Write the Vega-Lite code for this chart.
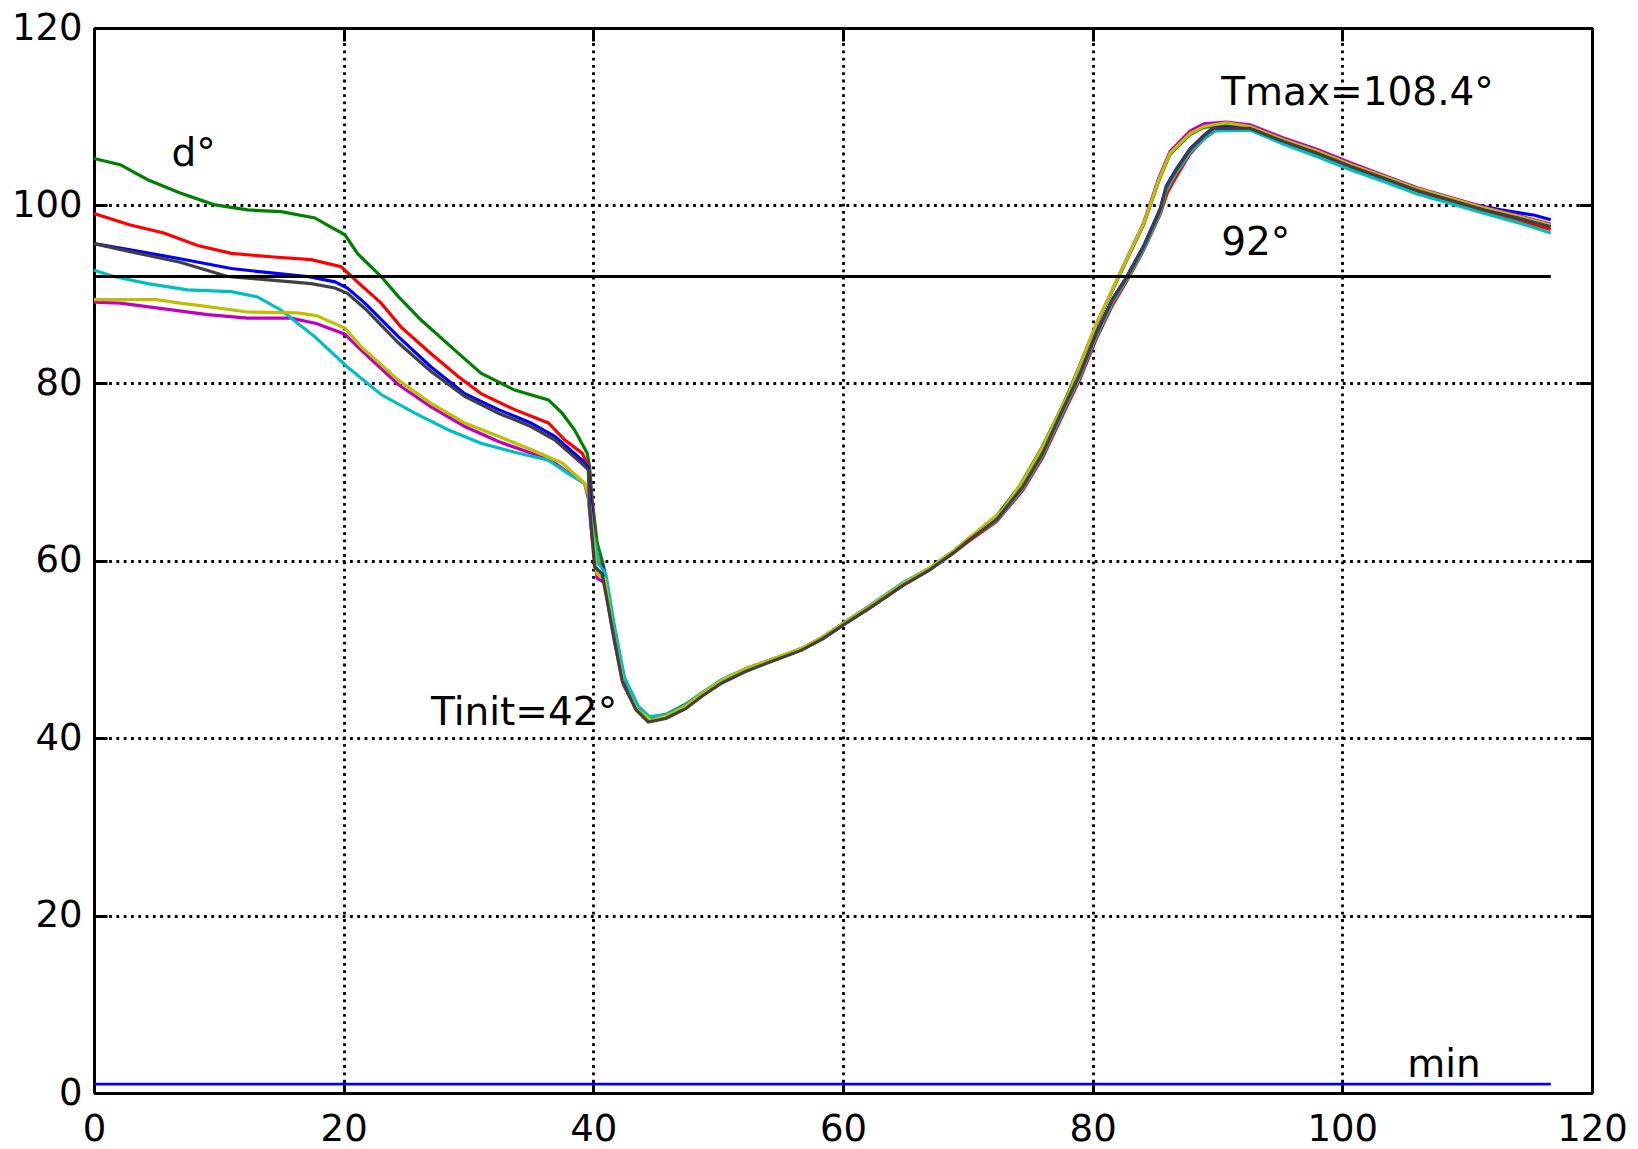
{
  "$schema": "https://vega.github.io/schema/vega-lite/v6.json",
  "width": 1498,
  "height": 1065,
  "autosize": {"type": "none"},
  "padding": {"left": 94, "top": 28, "right": 46, "bottom": 56},
  "background": "white",
  "config": {
    "view": {"stroke": null},
    "font": "DejaVu Sans"
  },
  "datasets": {
    "curves": [
      {"s":"green","t":0,"v":105.3},{"s":"green","t":2.1,"v":104.6},{"s":"green","t":4.3,"v":102.9},{"s":"green","t":6.9,"v":101.4},{"s":"green","t":9.6,"v":100.1},{"s":"green","t":12.3,"v":99.5},{"s":"green","t":15,"v":99.3},{"s":"green","t":17.7,"v":98.6},{"s":"green","t":18.7,"v":97.8},{"s":"green","t":20.1,"v":96.7},{"s":"green","t":21.1,"v":94.6},{"s":"green","t":23,"v":92},{"s":"green","t":24.4,"v":89.7},{"s":"green","t":26.2,"v":87.1},{"s":"green","t":28.9,"v":83.7},{"s":"green","t":31,"v":81.1},{"s":"green","t":33.7,"v":79.2},{"s":"green","t":36.4,"v":78.1},{"s":"green","t":37.5,"v":76.6},{"s":"green","t":38.5,"v":74.7},{"s":"green","t":39.5,"v":72.1},{"s":"green","t":39.7,"v":70.6},{"s":"green","t":39.9,"v":67},{"s":"green","t":40.3,"v":62},{"s":"green","t":40.8,"v":59.5},{"s":"green","t":41.6,"v":53},{"s":"green","t":42.4,"v":47},{"s":"green","t":43.5,"v":43.6},{"s":"green","t":44.5,"v":42.3},{"s":"green","t":45.9,"v":42.7},{"s":"green","t":47.4,"v":43.8},{"s":"green","t":48.7,"v":45.1},{"s":"green","t":50.3,"v":46.5},{"s":"green","t":52.2,"v":47.8},{"s":"green","t":54.6,"v":49.0},{"s":"green","t":56.7,"v":50.1},{"s":"green","t":58.4,"v":51.4},{"s":"green","t":60.2,"v":53.1},{"s":"green","t":62.1,"v":54.8},{"s":"green","t":64.8,"v":57.4},{"s":"green","t":66.9,"v":59.1},{"s":"green","t":68.8,"v":61.0},{"s":"green","t":70.1,"v":62.5},{"s":"green","t":72.3,"v":65.0},{"s":"green","t":74.2,"v":68.5},{"s":"green","t":76,"v":72.9},{"s":"green","t":77.6,"v":77.5},{"s":"green","t":78.2,"v":79.4},{"s":"green","t":80.3,"v":86.6},{"s":"green","t":82.2,"v":92.3},{"s":"green","t":84.1,"v":97.9},{"s":"green","t":85.3,"v":102.8},{"s":"green","t":86.2,"v":105.8},{"s":"green","t":87.8,"v":108.0},{"s":"green","t":88.9,"v":108.8},{"s":"green","t":90.7,"v":109.1},{"s":"green","t":92.6,"v":108.8},{"s":"green","t":95.3,"v":107.3},{"s":"green","t":98,"v":106.0},{"s":"green","t":100.7,"v":104.5},{"s":"green","t":103.3,"v":103.2},{"s":"green","t":106,"v":101.8},{"s":"green","t":108.7,"v":100.6},{"s":"green","t":111.4,"v":99.5},{"s":"green","t":114,"v":98.6},{"s":"green","t":116.7,"v":97.7},

      {"s":"red","t":0,"v":99.1},{"s":"red","t":2.9,"v":97.8},{"s":"red","t":5.6,"v":96.9},{"s":"red","t":8.3,"v":95.5},{"s":"red","t":11,"v":94.6},{"s":"red","t":14.4,"v":94.2},{"s":"red","t":17.4,"v":93.9},{"s":"red","t":19.8,"v":93.1},{"s":"red","t":21.1,"v":91.4},{"s":"red","t":23,"v":89},{"s":"red","t":24.6,"v":86.3},{"s":"red","t":27,"v":83.3},{"s":"red","t":29.2,"v":80.7},{"s":"red","t":31,"v":78.8},{"s":"red","t":33.7,"v":77},{"s":"red","t":36.4,"v":75.5},{"s":"red","t":37.7,"v":73.6},{"s":"red","t":39.1,"v":72.1},{"s":"red","t":39.6,"v":70.6},{"s":"red","t":39.8,"v":67.5},{"s":"red","t":40.2,"v":61},{"s":"red","t":40.8,"v":59},{"s":"red","t":41.6,"v":52.8},{"s":"red","t":42.4,"v":46.8},{"s":"red","t":43.5,"v":43.3},{"s":"red","t":44.5,"v":42.0},{"s":"red","t":45.9,"v":42.3},{"s":"red","t":47.4,"v":43.4},{"s":"red","t":48.7,"v":44.8},{"s":"red","t":50.3,"v":46.3},{"s":"red","t":52.2,"v":47.6},{"s":"red","t":54.6,"v":48.9},{"s":"red","t":56.7,"v":50.0},{"s":"red","t":58.4,"v":51.3},{"s":"red","t":60.2,"v":52.9},{"s":"red","t":62.1,"v":54.6},{"s":"red","t":64.8,"v":57.2},{"s":"red","t":66.9,"v":58.9},{"s":"red","t":68.8,"v":60.8},{"s":"red","t":70.1,"v":62.2},{"s":"red","t":72.3,"v":64.4},{"s":"red","t":74.4,"v":67.9},{"s":"red","t":76,"v":71.6},{"s":"red","t":77.6,"v":76.4},{"s":"red","t":79,"v":80.5},{"s":"red","t":80.3,"v":85.0},{"s":"red","t":81.6,"v":88.8},{"s":"red","t":82.7,"v":91.4},{"s":"red","t":84.1,"v":95.0},{"s":"red","t":85.4,"v":99.0},{"s":"red","t":86.0,"v":101.5},{"s":"red","t":86.8,"v":103.5},{"s":"red","t":87.8,"v":105.8},{"s":"red","t":88.9,"v":107.5},{"s":"red","t":89.9,"v":108.5},{"s":"red","t":92.6,"v":108.6},{"s":"red","t":95.3,"v":107.1},{"s":"red","t":98,"v":105.8},{"s":"red","t":100.7,"v":104.3},{"s":"red","t":103.3,"v":103.0},{"s":"red","t":106,"v":101.6},{"s":"red","t":108.7,"v":100.4},{"s":"red","t":111.4,"v":99.3},{"s":"red","t":114,"v":98.3},{"s":"red","t":116.7,"v":97.3},

      {"s":"blue","t":0,"v":95.7},{"s":"blue","t":2.9,"v":95},{"s":"blue","t":6.9,"v":94},{"s":"blue","t":11,"v":92.9},{"s":"blue","t":14.2,"v":92.4},{"s":"blue","t":17.1,"v":92},{"s":"blue","t":19.3,"v":91.4},{"s":"blue","t":20.3,"v":90.7},{"s":"blue","t":21.7,"v":89},{"s":"blue","t":24.4,"v":85.2},{"s":"blue","t":27,"v":81.8},{"s":"blue","t":29.7,"v":78.8},{"s":"blue","t":32.4,"v":77},{"s":"blue","t":35,"v":75.5},{"s":"blue","t":36.9,"v":74},{"s":"blue","t":39.1,"v":71.3},{"s":"blue","t":39.6,"v":70.5},{"s":"blue","t":39.8,"v":66.5},{"s":"blue","t":40.2,"v":60},{"s":"blue","t":40.8,"v":59.2},{"s":"blue","t":41.6,"v":53},{"s":"blue","t":42.4,"v":47},{"s":"blue","t":43.5,"v":43.4},{"s":"blue","t":44.5,"v":42.1},{"s":"blue","t":45.9,"v":42.4},{"s":"blue","t":47.4,"v":43.5},{"s":"blue","t":48.7,"v":44.9},{"s":"blue","t":50.3,"v":46.4},{"s":"blue","t":52.2,"v":47.7},{"s":"blue","t":54.6,"v":48.9},{"s":"blue","t":56.7,"v":50.0},{"s":"blue","t":58.4,"v":51.3},{"s":"blue","t":60.2,"v":53.0},{"s":"blue","t":62.1,"v":54.7},{"s":"blue","t":64.8,"v":57.3},{"s":"blue","t":66.9,"v":59.0},{"s":"blue","t":68.8,"v":60.9},{"s":"blue","t":70.1,"v":62.4},{"s":"blue","t":72.3,"v":64.7},{"s":"blue","t":74.4,"v":68.4},{"s":"blue","t":76,"v":72.2},{"s":"blue","t":77.6,"v":77.1},{"s":"blue","t":79,"v":81.2},{"s":"blue","t":80.3,"v":85.7},{"s":"blue","t":81.6,"v":89.5},{"s":"blue","t":82.7,"v":91.9},{"s":"blue","t":84.1,"v":95.5},{"s":"blue","t":85.4,"v":99.6},{"s":"blue","t":85.9,"v":102.2},{"s":"blue","t":86.7,"v":104.1},{"s":"blue","t":87.8,"v":106.4},{"s":"blue","t":88.9,"v":107.9},{"s":"blue","t":89.7,"v":108.8},{"s":"blue","t":92.6,"v":108.8},{"s":"blue","t":95.3,"v":107.3},{"s":"blue","t":98,"v":106.0},{"s":"blue","t":100.7,"v":104.5},{"s":"blue","t":103.3,"v":103.1},{"s":"blue","t":106,"v":101.8},{"s":"blue","t":108.7,"v":100.7},{"s":"blue","t":110.5,"v":100.1},{"s":"blue","t":112.7,"v":99.5},{"s":"blue","t":115.4,"v":98.9},{"s":"blue","t":116.7,"v":98.4},

      {"s":"magenta","t":0,"v":89.1},{"s":"magenta","t":2.1,"v":89},{"s":"magenta","t":5.3,"v":88.4},{"s":"magenta","t":9.1,"v":87.7},{"s":"magenta","t":12.3,"v":87.3},{"s":"magenta","t":15.8,"v":87.3},{"s":"magenta","t":17.8,"v":86.7},{"s":"magenta","t":20.1,"v":85.5},{"s":"magenta","t":21.1,"v":84.1},{"s":"magenta","t":24.4,"v":79.8},{"s":"magenta","t":27,"v":77.3},{"s":"magenta","t":29.7,"v":75.1},{"s":"magenta","t":32.4,"v":73.4},{"s":"magenta","t":35,"v":72.1},{"s":"magenta","t":36.9,"v":71},{"s":"magenta","t":38.5,"v":69.4},{"s":"magenta","t":39.3,"v":68.7},{"s":"magenta","t":39.6,"v":67},{"s":"magenta","t":39.9,"v":62.5},{"s":"magenta","t":40.3,"v":58},{"s":"magenta","t":40.9,"v":57.5},{"s":"magenta","t":41.6,"v":51.5},{"s":"magenta","t":42.4,"v":46},{"s":"magenta","t":43.5,"v":43.1},{"s":"magenta","t":44.6,"v":41.9},{"s":"magenta","t":45.9,"v":42.3},{"s":"magenta","t":47.4,"v":43.5},{"s":"magenta","t":48.7,"v":44.9},{"s":"magenta","t":50.3,"v":46.4},{"s":"magenta","t":52.2,"v":47.7},{"s":"magenta","t":54.6,"v":48.9},{"s":"magenta","t":56.7,"v":50.0},{"s":"magenta","t":58.4,"v":51.2},{"s":"magenta","t":60.2,"v":52.9},{"s":"magenta","t":62.1,"v":54.7},{"s":"magenta","t":64.8,"v":57.3},{"s":"magenta","t":66.9,"v":59.0},{"s":"magenta","t":68.8,"v":60.9},{"s":"magenta","t":70.1,"v":62.4},{"s":"magenta","t":72.8,"v":65.6},{"s":"magenta","t":74.4,"v":68.8},{"s":"magenta","t":76,"v":72.7},{"s":"magenta","t":78.2,"v":79.1},{"s":"magenta","t":80.3,"v":86.6},{"s":"magenta","t":82.2,"v":92.4},{"s":"magenta","t":84.1,"v":98.1},{"s":"magenta","t":85.3,"v":103.1},{"s":"magenta","t":86.2,"v":106.1},{"s":"magenta","t":87.8,"v":108.4},{"s":"magenta","t":88.9,"v":109.2},{"s":"magenta","t":90.7,"v":109.4},{"s":"magenta","t":92.6,"v":109.1},{"s":"magenta","t":95.3,"v":107.6},{"s":"magenta","t":98,"v":106.3},{"s":"magenta","t":100.7,"v":104.8},{"s":"magenta","t":103.3,"v":103.4},{"s":"magenta","t":106,"v":102.0},{"s":"magenta","t":108.7,"v":100.9},{"s":"magenta","t":111.4,"v":99.8},{"s":"magenta","t":114,"v":98.9},{"s":"magenta","t":116.7,"v":97.9},

      {"s":"cyan","t":0,"v":92.7},{"s":"cyan","t":1.6,"v":92},{"s":"cyan","t":4.3,"v":91.2},{"s":"cyan","t":7.5,"v":90.5},{"s":"cyan","t":11,"v":90.3},{"s":"cyan","t":13.1,"v":89.7},{"s":"cyan","t":15,"v":88.2},{"s":"cyan","t":17.7,"v":85.2},{"s":"cyan","t":20.3,"v":81.8},{"s":"cyan","t":23,"v":78.7},{"s":"cyan","t":25.7,"v":76.6},{"s":"cyan","t":28.4,"v":74.7},{"s":"cyan","t":31,"v":73.2},{"s":"cyan","t":33.7,"v":72.2},{"s":"cyan","t":36.4,"v":71.3},{"s":"cyan","t":38,"v":69.8},{"s":"cyan","t":39.3,"v":68.7},{"s":"cyan","t":39.6,"v":67.5},{"s":"cyan","t":40.0,"v":63},{"s":"cyan","t":40.5,"v":59.5},{"s":"cyan","t":41.0,"v":58.5},{"s":"cyan","t":41.7,"v":52.5},{"s":"cyan","t":42.5,"v":46.8},{"s":"cyan","t":43.6,"v":43.6},{"s":"cyan","t":44.5,"v":42.4},{"s":"cyan","t":45.8,"v":42.6},{"s":"cyan","t":47.4,"v":43.7},{"s":"cyan","t":48.7,"v":45.1},{"s":"cyan","t":50.3,"v":46.6},{"s":"cyan","t":52.2,"v":47.8},{"s":"cyan","t":54.6,"v":49.0},{"s":"cyan","t":56.7,"v":50.0},{"s":"cyan","t":58.4,"v":51.4},{"s":"cyan","t":60.2,"v":53.1},{"s":"cyan","t":62.1,"v":54.9},{"s":"cyan","t":64.8,"v":57.5},{"s":"cyan","t":66.9,"v":59.1},{"s":"cyan","t":68.8,"v":61.0},{"s":"cyan","t":70.1,"v":62.4},{"s":"cyan","t":72.3,"v":64.5},{"s":"cyan","t":74.4,"v":68.1},{"s":"cyan","t":76,"v":71.9},{"s":"cyan","t":77.6,"v":76.7},{"s":"cyan","t":79,"v":80.8},{"s":"cyan","t":80.3,"v":85.3},{"s":"cyan","t":81.6,"v":89.1},{"s":"cyan","t":82.7,"v":91.6},{"s":"cyan","t":84.1,"v":95.1},{"s":"cyan","t":85.4,"v":99.2},{"s":"cyan","t":85.9,"v":101.7},{"s":"cyan","t":86.7,"v":103.7},{"s":"cyan","t":87.8,"v":106.0},{"s":"cyan","t":88.9,"v":107.5},{"s":"cyan","t":89.7,"v":108.4},{"s":"cyan","t":92.6,"v":108.5},{"s":"cyan","t":95.3,"v":106.9},{"s":"cyan","t":98,"v":105.5},{"s":"cyan","t":100.7,"v":104.0},{"s":"cyan","t":103.3,"v":102.7},{"s":"cyan","t":106,"v":101.3},{"s":"cyan","t":108.7,"v":100.2},{"s":"cyan","t":111.4,"v":99.1},{"s":"cyan","t":114,"v":98.1},{"s":"cyan","t":116.7,"v":96.9},

      {"s":"yellow","t":0,"v":89.4},{"s":"yellow","t":5,"v":89.4},{"s":"yellow","t":6.9,"v":89},{"s":"yellow","t":9.1,"v":88.6},{"s":"yellow","t":12.3,"v":88},{"s":"yellow","t":16.3,"v":87.9},{"s":"yellow","t":17.8,"v":87.6},{"s":"yellow","t":20.1,"v":86.2},{"s":"yellow","t":21.4,"v":84.1},{"s":"yellow","t":24.4,"v":80.3},{"s":"yellow","t":27,"v":77.7},{"s":"yellow","t":29.7,"v":75.5},{"s":"yellow","t":32.4,"v":74},{"s":"yellow","t":35,"v":72.5},{"s":"yellow","t":37.5,"v":71},{"s":"yellow","t":39.3,"v":68.7},{"s":"yellow","t":39.6,"v":67.5},{"s":"yellow","t":39.9,"v":63.5},{"s":"yellow","t":40.3,"v":58.5},{"s":"yellow","t":40.9,"v":58},{"s":"yellow","t":41.6,"v":52},{"s":"yellow","t":42.4,"v":46.2},{"s":"yellow","t":43.5,"v":43.2},{"s":"yellow","t":44.6,"v":42.0},{"s":"yellow","t":45.9,"v":42.5},{"s":"yellow","t":47.4,"v":43.6},{"s":"yellow","t":48.7,"v":45.0},{"s":"yellow","t":50.3,"v":46.5},{"s":"yellow","t":52.2,"v":47.8},{"s":"yellow","t":54.6,"v":49.0},{"s":"yellow","t":56.7,"v":50.1},{"s":"yellow","t":58.4,"v":51.4},{"s":"yellow","t":60.2,"v":53.1},{"s":"yellow","t":62.1,"v":54.8},{"s":"yellow","t":64.8,"v":57.4},{"s":"yellow","t":66.9,"v":59.1},{"s":"yellow","t":68.8,"v":61.0},{"s":"yellow","t":70.1,"v":62.5},{"s":"yellow","t":72.8,"v":65.7},{"s":"yellow","t":74.4,"v":68.9},{"s":"yellow","t":76,"v":72.8},{"s":"yellow","t":78.2,"v":79.2},{"s":"yellow","t":80.3,"v":86.7},{"s":"yellow","t":82.2,"v":92.4},{"s":"yellow","t":84.1,"v":98},{"s":"yellow","t":85.3,"v":102.9},{"s":"yellow","t":86.2,"v":105.9},{"s":"yellow","t":87.8,"v":108.1},{"s":"yellow","t":88.9,"v":108.9},{"s":"yellow","t":90.7,"v":109.3},{"s":"yellow","t":92.6,"v":108.9},{"s":"yellow","t":95.3,"v":107.4},{"s":"yellow","t":98,"v":106.1},{"s":"yellow","t":100.7,"v":104.6},{"s":"yellow","t":103.3,"v":103.3},{"s":"yellow","t":106,"v":101.9},{"s":"yellow","t":108.7,"v":100.8},{"s":"yellow","t":111.4,"v":99.7},{"s":"yellow","t":114,"v":98.8},{"s":"yellow","t":116.7,"v":97.8},

      {"s":"gray","t":0,"v":95.7},{"s":"gray","t":2.9,"v":94.8},{"s":"gray","t":6.9,"v":93.6},{"s":"gray","t":10.7,"v":92.0},{"s":"gray","t":14.2,"v":91.6},{"s":"gray","t":17.4,"v":91.2},{"s":"gray","t":19.3,"v":90.7},{"s":"gray","t":20.3,"v":90.1},{"s":"gray","t":21.7,"v":88.4},{"s":"gray","t":24.4,"v":84.5},{"s":"gray","t":27,"v":81.3},{"s":"gray","t":29.7,"v":78.5},{"s":"gray","t":32.4,"v":76.6},{"s":"gray","t":35,"v":75.1},{"s":"gray","t":36.9,"v":73.6},{"s":"gray","t":39.1,"v":70.9},{"s":"gray","t":39.6,"v":70.2},{"s":"gray","t":39.7,"v":66.1},{"s":"gray","t":40.1,"v":59.3},{"s":"gray","t":40.7,"v":58.5},{"s":"gray","t":41.5,"v":52.5},{"s":"gray","t":42.3,"v":46.5},{"s":"gray","t":43.4,"v":43.2},{"s":"gray","t":44.4,"v":41.8},{"s":"gray","t":45.8,"v":42.2},{"s":"gray","t":47.4,"v":43.3},{"s":"gray","t":48.7,"v":44.7},{"s":"gray","t":50.3,"v":46.2},{"s":"gray","t":52.2,"v":47.5},{"s":"gray","t":54.6,"v":48.8},{"s":"gray","t":56.7,"v":49.9},{"s":"gray","t":58.4,"v":51.2},{"s":"gray","t":60.2,"v":52.9},{"s":"gray","t":62.1,"v":54.6},{"s":"gray","t":64.8,"v":57.2},{"s":"gray","t":66.9,"v":58.9},{"s":"gray","t":68.8,"v":60.8},{"s":"gray","t":70.1,"v":62.3},{"s":"gray","t":72.3,"v":64.6},{"s":"gray","t":74.4,"v":68.3},{"s":"gray","t":76,"v":72.1},{"s":"gray","t":77.6,"v":77},{"s":"gray","t":79,"v":81.1},{"s":"gray","t":80.3,"v":85.6},{"s":"gray","t":81.6,"v":89.4},{"s":"gray","t":82.7,"v":91.8},{"s":"gray","t":84.1,"v":95.4},{"s":"gray","t":85.4,"v":99.5},{"s":"gray","t":85.9,"v":102.1},{"s":"gray","t":86.7,"v":104},{"s":"gray","t":87.8,"v":106.3},{"s":"gray","t":88.9,"v":107.8},{"s":"gray","t":89.7,"v":108.7},{"s":"gray","t":92.6,"v":108.7},{"s":"gray","t":95.3,"v":107.2},{"s":"gray","t":98,"v":105.9},{"s":"gray","t":100.7,"v":104.4},{"s":"gray","t":103.3,"v":103.1},{"s":"gray","t":106,"v":101.7},{"s":"gray","t":108.7,"v":100.6},{"s":"gray","t":111.4,"v":99.5},{"s":"gray","t":114,"v":98.6},{"s":"gray","t":116.7,"v":97.6}
    ],
    "refs": [
      {"name":"T92","x":0,"x2":116.7,"y":92,"c":"black"},
      {"name":"min","x":0,"x2":116.7,"y":1,"c":"blue"}
    ],
    "notes": [
      {"label":"d°","x":6.2,"y":104.4},
      {"label":"Tmax=108.4°","x":90.3,"y":111.3},
      {"label":"92°","x":90.3,"y":94.4},
      {"label":"Tinit=42°","x":27.0,"y":41.5},
      {"label":"min","x":105.2,"y":1.8}
    ]
  },
  "resolve": {"axis": {"x": "independent", "y": "independent"}},
  "layer": [
    {
      "data": {"name": "curves"},
      "mark": {"type": "line", "strokeWidth": 3.2, "interpolate": "linear"},
      "encoding": {
        "x": {"field": "t", "type": "quantitative",
              "scale": {"domain": [0, 120], "nice": false, "zero": false},
              "axis": {"orient": "bottom", "title": null, "values": [0,20,40,60,80,100,120],
                       "domain": true, "domainColor": "black", "domainWidth": 3,
                       "ticks": true, "tickSize": -13, "tickWidth": 3, "tickColor": "black",
                       "grid": true, "gridColor": "black", "gridDash": [2.8, 4.5], "gridWidth": 2.8, "gridOpacity": 1,
                       "labelFont": "DejaVu Sans", "labelFontSize": 37, "labelColor": "black",
                       "labelPadding": 31, "labelFlush": false, "labelOverlap": false}},
        "y": {"field": "v", "type": "quantitative",
              "scale": {"domain": [0, 120], "nice": false, "zero": false},
              "axis": {"orient": "left", "title": null, "values": [0,20,40,60,80,100,120],
                       "domain": true, "domainColor": "black", "domainWidth": 3,
                       "ticks": true, "tickSize": -13, "tickWidth": 3, "tickColor": "black",
                       "grid": true, "gridColor": "black", "gridDash": [2.8, 4.5], "gridWidth": 2.8, "gridOpacity": 1,
                       "labelFont": "DejaVu Sans", "labelFontSize": 37, "labelColor": "black",
                       "labelPadding": 25, "labelFlush": false, "labelOverlap": false}},
        "color": {"field": "s", "type": "nominal",
                  "scale": {"domain": ["green","red","blue","magenta","cyan","yellow","gray"],
                            "range": ["#008000","#ff0000","#0000ff","#bf00bf","#00bfbf","#bfbf00","#404040"]},
                  "legend": null}
      }
    },
    {
      "data": {"name": "refs"},
      "mark": {"type": "rule", "strokeWidth": 2.8},
      "encoding": {
        "x": {"field": "x", "type": "quantitative",
              "scale": {"domain": [0, 120], "nice": false, "zero": false},
              "axis": {"orient": "top", "title": null, "values": [0,20,40,60,80,100,120],
                       "labels": false, "grid": false,
                       "domain": true, "domainColor": "black", "domainWidth": 3,
                       "ticks": true, "tickSize": -13, "tickWidth": 3, "tickColor": "black"}},
        "x2": {"field": "x2"},
        "y": {"field": "y", "type": "quantitative",
              "scale": {"domain": [0, 120], "nice": false, "zero": false},
              "axis": {"orient": "right", "title": null, "values": [0,20,40,60,80,100,120],
                       "labels": false, "grid": false,
                       "domain": true, "domainColor": "black", "domainWidth": 3,
                       "ticks": true, "tickSize": -13, "tickWidth": 3, "tickColor": "black"}},
        "color": {"field": "c", "type": "nominal", "scale": null, "legend": null}
      }
    },
    {
      "data": {"name": "notes"},
      "mark": {"type": "text", "align": "left", "baseline": "alphabetic", "font": "DejaVu Sans", "fontSize": 39, "color": "black"},
      "encoding": {
        "x": {"field": "x", "type": "quantitative", "axis": null},
        "y": {"field": "y", "type": "quantitative", "axis": null},
        "text": {"field": "label"}
      }
    }
  ]
}
